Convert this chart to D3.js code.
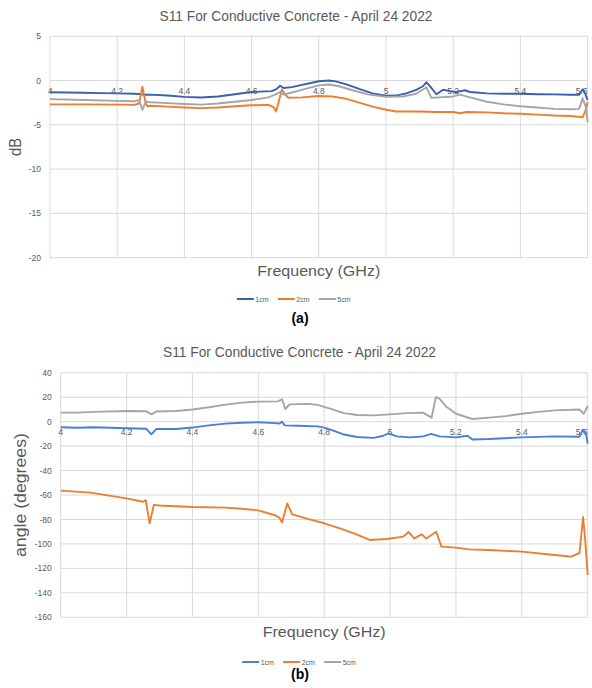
<!DOCTYPE html>
<html><head><meta charset="utf-8">
<script src="https://cdn.jsdelivr.net/npm/d3@7"></script>
<style>body{margin:0;background:#fff}svg{display:block}</style>
</head><body>
<svg id="c" width="592" height="688"></svg>
<script>
// ---------- shared ----------
const titleText = "S11 For Conductive Concrete - April 24 2022";
const seriesNames = ["1cm", "2cm", "5cm"];
const freqTicks = [4, 4.2, 4.4, 4.6, 4.8, 5, 5.2, 5.4, 5.6];
const freqTickLabels = ["4", "4.2", "4.4", "4.6", "4.8", "5", "5.2", "5.4", "5.6"];

// ---------- (a) magnitude, dB ----------
const dbTicks = [5, 0, -5, -10, -15, -20];
const magBlue = [[4.00,-1.33],[4.05,-1.35],[4.10,-1.38],[4.15,-1.42],[4.20,-1.45],[4.25,-1.5],[4.27,-1.55],[4.28,-1.6],[4.30,-1.6],[4.35,-1.7],[4.40,-1.85],[4.45,-1.92],[4.50,-1.8],[4.55,-1.55],[4.60,-1.3],[4.66,-1.2],[4.675,-0.95],[4.685,-0.6],[4.695,-0.85],[4.72,-0.75],[4.75,-0.5],[4.78,-0.25],[4.80,-0.08],[4.83,0],[4.85,-0.1],[4.88,-0.4],[4.92,-0.95],[4.96,-1.45],[5.00,-1.72],[5.03,-1.7],[5.06,-1.45],[5.09,-1.05],[5.11,-0.65],[5.12,-0.2],[5.13,-0.6],[5.15,-1.55],[5.17,-1.05],[5.19,-1.2],[5.21,-1.3],[5.235,-1.1],[5.25,-1.3],[5.30,-1.45],[5.35,-1.5],[5.40,-1.5],[5.45,-1.55],[5.50,-1.57],[5.55,-1.6],[5.575,-1.6],[5.585,-1.0],[5.593,-1.5],[5.60,-2.2]];
const magOrange = [[4.00,-2.7],[4.10,-2.7],[4.20,-2.72],[4.25,-2.75],[4.265,-2.6],[4.275,-0.7],[4.285,-2.6],[4.29,-2.9],[4.30,-2.85],[4.35,-2.95],[4.40,-3.05],[4.45,-3.12],[4.50,-3.05],[4.55,-2.9],[4.60,-2.8],[4.65,-2.75],[4.665,-3.0],[4.673,-3.5],[4.68,-2.5],[4.69,-1.0],[4.70,-1.6],[4.71,-1.95],[4.75,-1.9],[4.80,-1.75],[4.84,-1.8],[4.88,-2.05],[4.92,-2.5],[4.96,-2.95],[5.00,-3.3],[5.03,-3.5],[5.10,-3.5],[5.15,-3.55],[5.20,-3.55],[5.22,-3.7],[5.24,-3.55],[5.30,-3.6],[5.35,-3.7],[5.40,-3.75],[5.45,-3.85],[5.50,-3.95],[5.55,-4.0],[5.585,-4.15],[5.595,-3.3],[5.60,-2.4]];
const magGray = [[4.00,-2.1],[4.10,-2.2],[4.20,-2.3],[4.25,-2.35],[4.265,-2.2],[4.275,-3.3],[4.285,-2.4],[4.30,-2.45],[4.35,-2.55],[4.40,-2.65],[4.45,-2.72],[4.50,-2.6],[4.55,-2.4],[4.60,-2.2],[4.65,-1.9],[4.67,-1.6],[4.685,-1.3],[4.695,-1.6],[4.72,-1.35],[4.76,-0.95],[4.80,-0.55],[4.83,-0.45],[4.86,-0.65],[4.90,-1.1],[4.95,-1.6],[5.00,-1.85],[5.05,-1.8],[5.09,-1.5],[5.115,-0.9],[5.12,-0.75],[5.135,-1.95],[5.16,-1.9],[5.20,-1.8],[5.22,-1.6],[5.25,-1.9],[5.30,-2.4],[5.35,-2.7],[5.40,-2.9],[5.45,-3.05],[5.50,-3.2],[5.55,-3.25],[5.575,-3.2],[5.585,-2.0],[5.595,-3.0],[5.60,-4.7]];

// ---------- (b) phase, degrees ----------
const degTicks = [40, 20, 0, -20, -40, -60, -80, -100, -120, -140, -160];
const phaseBlue = [[4.00,-4.6],[4.05,-5.0],[4.10,-4.6],[4.15,-5.0],[4.20,-5.4],[4.26,-5.8],[4.275,-10.3],[4.29,-6.0],[4.35,-6.0],[4.40,-4.8],[4.45,-3.0],[4.50,-1.6],[4.55,-0.8],[4.60,-0.5],[4.65,-1.2],[4.665,-1.5],[4.672,0],[4.68,-3.0],[4.72,-3.3],[4.78,-3.8],[4.80,-4.8],[4.83,-7.5],[4.86,-10.5],[4.90,-12.5],[4.95,-13.2],[4.98,-11.5],[4.995,-9.5],[5.02,-12.0],[5.06,-12.8],[5.10,-12.0],[5.125,-10.0],[5.15,-12.0],[5.20,-12.8],[5.235,-11.5],[5.25,-14.5],[5.30,-14.2],[5.40,-12.8],[5.50,-12.0],[5.575,-12.3],[5.585,-6.5],[5.595,-10],[5.60,-18]];
const phaseOrange = [[4.00,-56.4],[4.09,-58.0],[4.20,-62.7],[4.25,-65.5],[4.258,-64.2],[4.27,-83],[4.283,-68],[4.30,-68.5],[4.40,-69.8],[4.50,-70.3],[4.55,-71.2],[4.60,-72.5],[4.65,-76.5],[4.663,-78.2],[4.672,-82.3],[4.688,-66.8],[4.703,-75.8],[4.75,-79.5],[4.80,-83.1],[4.85,-87.5],[4.89,-91.3],[4.94,-96.8],[4.99,-96],[5.04,-94],[5.056,-90.2],[5.073,-95.5],[5.096,-92.2],[5.11,-95.5],[5.14,-90],[5.156,-102.2],[5.20,-103],[5.24,-104.4],[5.30,-105],[5.40,-106.3],[5.50,-109],[5.55,-110.4],[5.575,-107.5],[5.586,-78],[5.592,-95],[5.60,-125.4]];
const phaseGray = [[4.00,7.4],[4.05,7.4],[4.10,8.0],[4.20,8.8],[4.26,8.5],[4.276,6.0],[4.29,8.3],[4.35,8.8],[4.40,10.0],[4.45,11.8],[4.50,14.0],[4.55,15.6],[4.60,16.4],[4.66,16.6],[4.672,18.4],[4.682,10.4],[4.695,14.2],[4.75,14.6],[4.78,13.8],[4.82,10.5],[4.86,7.0],[4.90,5.5],[4.95,5.2],[5.00,6.0],[5.05,7.0],[5.10,7.4],[5.126,3.3],[5.139,20.0],[5.15,18.8],[5.17,12.5],[5.20,6.5],[5.25,2.2],[5.30,3.3],[5.35,4.6],[5.40,6.5],[5.45,8.0],[5.50,9.3],[5.575,10.0],[5.588,6.5],[5.60,12.8]];

const svg = d3.select("#c");
svg.append("rect").attr("width",592).attr("height",688).attr("fill","#fff");
const TXT = "#595959", GRID = "#d9d9d9";
const FONT = "'Liberation Sans', Arial, sans-serif";

function drawChart(cfg) {
  const x = d3.scaleLinear().domain([4, 5.6]).range([cfg.left, cfg.right]);
  const y = d3.scaleLinear().domain(cfg.yDomain).range([cfg.bottom, cfg.top]);
  const g = svg.append("g");

  g.selectAll(".hg").data(cfg.yTicks).join("line")
    .attr("x1", cfg.left).attr("x2", cfg.right)
    .attr("y1", d => y(d)).attr("y2", d => y(d))
    .attr("stroke", GRID).attr("stroke-width", 1);
  g.selectAll(".vg").data(freqTicks).join("line")
    .attr("x1", d => x(d)).attr("x2", d => x(d))
    .attr("y1", cfg.top).attr("y2", cfg.bottom)
    .attr("stroke", GRID).attr("stroke-width", 1);

  g.selectAll(".yl").data(cfg.yTicks).join("text")
    .attr("x", cfg.left - 9).attr("y", d => y(d) + 3)
    .attr("text-anchor", "end").attr("font-family", FONT)
    .attr("font-size", 8.5).attr("fill", TXT).text(d => d);

  g.selectAll(".xl").data(freqTicks).join("text")
    .attr("x", (d, i) => i === freqTicks.length - 1 ? Math.min(x(d), 591) : x(d))
    .attr("y", y(0) + 13.5)
    .attr("text-anchor", (d, i) => i === freqTicks.length - 1 ? "end" : "middle")
    .attr("font-family", FONT)
    .attr("font-size", 8.5).attr("fill", TXT)
    .text((d, i) => freqTickLabels[i]);

  const line = d3.line().x(d => x(d[0])).y(d => y(d[1]));
  cfg.series.forEach(s => {
    g.append("path").datum(s.data).attr("d", line)
      .attr("fill", "none").attr("stroke", s.color)
      .attr("stroke-width", 1.9).attr("stroke-linejoin", "round");
  });

  g.append("text").attr("x", cfg.titleX).attr("y", cfg.top - 15.5)
    .attr("text-anchor", "middle").attr("font-family", FONT)
    .attr("font-size", 14).attr("fill", TXT)
    .attr("textLength", 273).attr("lengthAdjust", "spacingAndGlyphs")
    .text(titleText);

  const ymid = (cfg.top + cfg.bottom) / 2;
  g.append("text").attr("transform", `translate(${cfg.yTitleX},${ymid}) rotate(-90)`)
    .attr("text-anchor", "middle").attr("font-family", FONT)
    .attr("font-size", 16).attr("fill", TXT)
    .attr("textLength", cfg.yTitleLen).attr("lengthAdjust", "spacingAndGlyphs")
    .text(cfg.yTitle);

  const xmid = (cfg.left + cfg.right) / 2;
  g.append("text").attr("x", xmid).attr("y", cfg.xTitleY)
    .attr("text-anchor", "middle").attr("font-family", FONT)
    .attr("font-size", 15).attr("fill", TXT)
    .attr("textLength", 123).attr("lengthAdjust", "spacingAndGlyphs")
    .text("Frequency (GHz)");

  const lg = g.append("g").attr("transform", `translate(${xmid - 82},${cfg.legendY})`);
  cfg.series.forEach((s, i) => {
    const ox = i * 41;
    lg.append("line").attr("x1", ox).attr("x2", ox + 17).attr("y1", 0).attr("y2", 0)
      .attr("stroke", s.color).attr("stroke-width", 2);
    lg.append("text").attr("x", ox + 18.5).attr("y", 2.5)
      .attr("font-family", FONT).attr("font-size", 7).attr("fill", TXT)
      .text(seriesNames[i]);
  });

  g.append("text").attr("x", 300).attr("y", cfg.subY)
    .attr("text-anchor", "middle").attr("font-family", FONT)
    .attr("font-size", 14).attr("font-weight", "bold").attr("fill", "#000")
    .text(cfg.sub);
}

drawChart({
  left: 50, right: 587.6, top: 36.2, bottom: 257.7,
  yDomain: [-20, 5], yTicks: dbTicks,
  titleX: 296, yTitle: "dB", yTitleX: 20.5, yTitleLen: 18,
  xTitleY: 276, legendY: 299, subY: 323, sub: "(a)",
  series: [
    { data: magBlue, color: "#3a5fb0" },
    { data: magOrange, color: "#ED7D31" },
    { data: magGray, color: "#A5A5A5" }
  ]
});

drawChart({
  left: 60.7, right: 587.7, top: 372.8, bottom: 617.3,
  yDomain: [-160, 40], yTicks: degTicks,
  titleX: 299.5, yTitle: "angle (degrees)", yTitleX: 26, yTitleLen: 124,
  xTitleY: 636.7, legendY: 662, subY: 679, sub: "(b)",
  series: [
    { data: phaseBlue, color: "#4a7fd8" },
    { data: phaseOrange, color: "#ED7D31" },
    { data: phaseGray, color: "#A5A5A5" }
  ]
});
</script>
</body></html>
